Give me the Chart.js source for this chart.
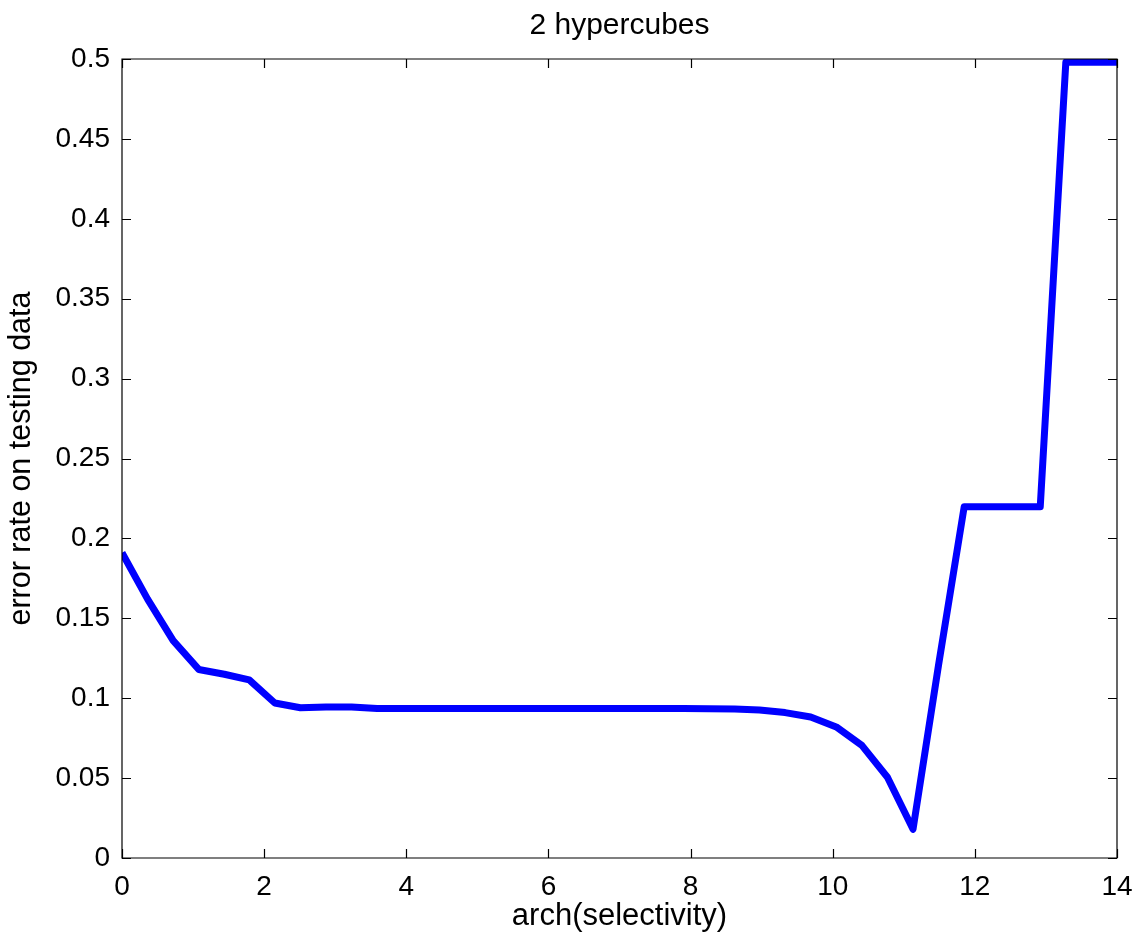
<!DOCTYPE html>
<html>
<head>
<meta charset="utf-8">
<script src="https://cdn.jsdelivr.net/npm/chart.js@4"></script>
<style>
  body{margin:0;background:#fff;}
  canvas{display:block;}
</style>
</head>
<body>
<canvas id="chart" width="1146" height="940"></canvas>
<script>
// arch(selectivity) values along the curve
var archSel=[0,0.36,0.72,1.08,1.44,1.79,2.15,2.51,2.87,3.23,
             3.59,3.95,4.31,4.67,5.03,5.38,5.74,6.10,6.46,6.82,
             7.18,7.54,7.90,8.26,8.62,8.97,9.33,9.69,10.05,10.41,
             10.77,11.13,11.49,11.85,12.21,12.56,12.92,13.28,13.64,14.0];
// error rate on testing data
var errRate=[0.191,0.162,0.136,0.118,0.115,0.1115,0.097,0.094,0.0945,0.0945,
             0.0935,0.0935,0.0935,0.0935,0.0935,0.0935,0.0935,0.0935,0.0935,0.0935,
             0.0935,0.0935,0.0935,0.0934,0.0932,0.0926,0.0910,0.0882,0.0820,0.0705,
             0.0505,0.018,0.121,0.2198,0.2198,0.2198,0.2198,0.498,0.498,0.498];
var xTicks=[0,2,4,6,8,10,12,14];
var yTicks=[0,0.05,0.1,0.15,0.2,0.25,0.3,0.35,0.4,0.45,0.5];
var yTickLabels=['0','0.05','0.1','0.15','0.2','0.25','0.3','0.35','0.4','0.45','0.5'];
var titleText='2 hypercubes';

var font="'Liberation Sans', Arial, sans-serif";

var points=archSel.map(function(x,i){return {x:x,y:errRate[i]};});

// matlab style box with inward ticks on all four sides, title over the axes
var boxTicks={
  id:'boxTicks',
  afterDatasetsDraw:function(chart){
    var ctx=chart.ctx, a=chart.chartArea, xs=chart.scales.x, ys=chart.scales.y, len=9;
    ctx.save();
    ctx.strokeStyle='#000';
    ctx.lineWidth=1.2;
    ctx.beginPath();
    ctx.rect(a.left,a.top,a.right-a.left,a.bottom-a.top);
    xTicks.forEach(function(v){
      var px=Math.round(xs.getPixelForValue(v))+0.5;
      ctx.moveTo(px,a.bottom);ctx.lineTo(px,a.bottom-len);
      ctx.moveTo(px,a.top);ctx.lineTo(px,a.top+len);
    });
    yTicks.forEach(function(v){
      var py=Math.round(ys.getPixelForValue(v))+0.5;
      ctx.moveTo(a.left,py);ctx.lineTo(a.left+len,py);
      ctx.moveTo(a.right,py);ctx.lineTo(a.right-len,py);
    });
    ctx.stroke();
    ctx.fillStyle='#000';
    ctx.font='30px '+font;
    ctx.textAlign='center';
    ctx.textBaseline='middle';
    ctx.fillText(titleText,(a.left+a.right)/2,26);
    ctx.restore();
  }
};

var chart=new Chart(document.getElementById('chart'),{
  type:'line',
  data:{
    datasets:[{
      data:points,
      borderColor:'#0000ff',
      borderWidth:7,
      pointRadius:0,
      tension:0,
      borderJoinStyle:'round',
      borderCapStyle:'butt',
      fill:false
    }]
  },
  options:{
    responsive:false,
    devicePixelRatio:1,
    animation:false,
    layout:{padding:{left:0,right:29,top:59,bottom:0}},
    plugins:{
      legend:{display:false},
      tooltip:{enabled:false},
      title:{display:false}
    },
    scales:{
      x:{
        type:'linear',
        min:0,max:14,
        afterBuildTicks:function(s){s.ticks=xTicks.map(function(v){return {value:v};});},
        afterFit:function(s){s.height=82;},
        grid:{display:false,drawTicks:false},
        border:{display:false},
        ticks:{color:'#000',font:{family:font,size:28},padding:12,maxRotation:0,
               callback:function(v){return String(v);}},
        title:{display:true,text:'arch(selectivity)',color:'#000',
               font:{family:font,size:31},padding:{top:0,bottom:5}}
      },
      y:{
        type:'linear',
        min:0,max:0.5,
        afterBuildTicks:function(s){s.ticks=yTicks.map(function(v){return {value:v};});},
        afterFit:function(s){s.width=122;},
        grid:{display:false,drawTicks:false},
        border:{display:false},
        ticks:{color:'#000',font:{family:font,size:28},padding:12,
               callback:function(v,i){return yTickLabels[i];}},
        title:{display:true,text:'error rate on testing data',color:'#000',
               font:{family:font,size:30.5},padding:{top:3,bottom:0}}
      }
    }
  },
  plugins:[boxTicks]
});
</script>
</body>
</html>
